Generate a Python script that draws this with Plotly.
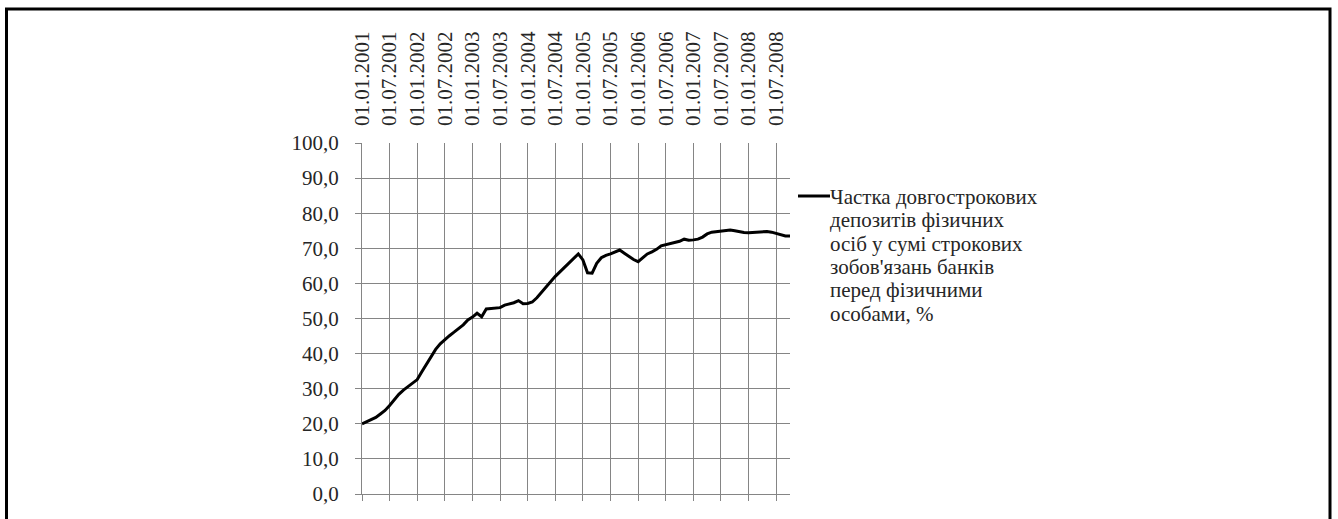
import plotly.graph_objects as go

# Monthly observation dates, 01.01.2001 .. 01.10.2008
months = [f"01.{m:02d}.{y}" for y in range(2001, 2009) for m in range(1, 13)][:94]

# Share of long-term household deposits in term liabilities to individuals, %
share = [
    20.0, 20.6, 21.0, 21.8, 22.8, 23.8, 25.2, 26.8, 28.4, 29.6, 30.6, 31.6,
    32.6, 34.8, 37.0, 39.2, 41.2, 42.8, 44.0, 45.1, 46.1, 47.2, 48.2, 49.6,
    50.4, 51.5, 50.5, 52.7, 52.8, 52.9, 53.1, 53.8, 54.1, 54.5, 55.1, 54.2,
    54.3, 54.7, 55.9, 57.5, 59.0, 60.4, 62.0, 63.3, 64.6, 66.0, 67.3, 68.4,
    66.7, 63.0, 62.9, 65.7, 67.3, 68.0, 68.4, 69.0, 69.5, 68.6, 67.6, 66.8,
    66.2, 67.3, 68.4, 69.0, 69.7, 70.7, 71.0, 71.3, 71.7, 72.0, 72.6, 72.3,
    72.4, 72.6, 73.2, 74.1, 74.6, 74.8, 74.9, 75.0, 75.2, 75.0, 74.7, 74.5,
    74.4, 74.5, 74.7, 74.9, 74.8, 74.6, 74.2, 73.8, 73.5, 73.5,
]

x_tick_labels = [
    "01.01.2001", "01.07.2001", "01.01.2002", "01.07.2002", "01.01.2003",
    "01.07.2003", "01.01.2004", "01.07.2004", "01.01.2005", "01.07.2005",
    "01.01.2006", "01.07.2006", "01.01.2007", "01.07.2007", "01.01.2008",
    "01.07.2008",
]
y_tick_values = [0, 10, 20, 30, 40, 50, 60, 70, 80, 90, 100]
y_tick_labels = ["0,0", "10,0", "20,0", "30,0", "40,0", "50,0",
                 "60,0", "70,0", "80,0", "90,0", "100,0"]

legend_lines = [
    "Частка довгострокових",
    "депозитів фізичних",
    "осіб у сумі строкових",
    "зобов'язань банків",
    "перед фізичними",
    "особами, %",
]

# Page geometry (pixels)
W, H = 1338, 519
L, R, T, B = 362, 790, 143, 494
FONT = "Liberation Serif"
GRID = "#858585"
TEXT = "#262626"
LEGEND_SIZE = 21
LEGEND_STEP = 23.3
LEGEND_TOP = 196


def px_x(px):
    return (px - L) / (R - L)


def px_y(py):
    return (B - py) / (B - T)


n = len(months)
tick_idx = [months.index(lbl) for lbl in x_tick_labels]

fig = go.Figure()
fig.add_trace(go.Scatter(
    x=list(range(n)), y=share, mode="lines",
    line=dict(color="black", width=3),
    showlegend=False, hoverinfo="skip",
))
# empty trace so the top label axis gets its own subplot
fig.add_trace(go.Scatter(x=[], y=[], xaxis="x2", yaxis="y",
                         showlegend=False, hoverinfo="skip"))

fig.update_layout(
    width=W, height=H, autosize=False,
    margin=dict(l=L, r=W - R, t=T, b=H - B, pad=0),
    paper_bgcolor="white", plot_bgcolor="white",
    font=dict(family=FONT, size=21, color=TEXT),
    xaxis=dict(
        type="linear", range=[0, n - 1],
        tickmode="array", tickvals=tick_idx, ticktext=[""] * len(tick_idx),
        showgrid=True, gridcolor=GRID, gridwidth=1,
        showline=True, linecolor=GRID, linewidth=1,
        ticks="outside", ticklen=6, tickcolor=GRID, tickwidth=1,
        zeroline=False, fixedrange=True,
    ),
    xaxis2=dict(
        type="linear", range=[0, n - 1], overlaying="x", side="top",
        anchor="y",
        tickmode="array", tickvals=tick_idx, ticktext=x_tick_labels,
        tickangle=-90, ticks="", showgrid=False, showline=False,
        zeroline=False, ticklabelstandoff=16,
        tickfont=dict(family=FONT, size=21, color=TEXT),
    ),
    yaxis=dict(
        range=[0, 100], tickmode="array",
        tickvals=y_tick_values, ticktext=y_tick_labels,
        showgrid=True, gridcolor=GRID, gridwidth=1,
        showline=True, linecolor=GRID, linewidth=1,
        ticks="outside", ticklen=6, tickcolor=GRID, tickwidth=1,
        zeroline=False, ticklabelstandoff=12,
        tickfont=dict(family=FONT, size=21, color=TEXT),
    ),
)

# Legend: sample line plus tightly spaced text lines
fig.add_shape(type="line", xref="paper", yref="paper",
              x0=px_x(798), x1=px_x(830),
              y0=px_y(LEGEND_TOP), y1=px_y(LEGEND_TOP),
              line=dict(color="black", width=3))
for k, txt in enumerate(legend_lines):
    fig.add_annotation(
        xref="paper", yref="paper", x=px_x(829),
        y=px_y(LEGEND_TOP + 1 + k * LEGEND_STEP),
        text=txt, showarrow=False, xanchor="left", yanchor="middle",
        borderpad=0,
        font=dict(family=FONT, size=LEGEND_SIZE, color=TEXT),
    )

# Chart frame
fig.add_shape(type="rect", xref="paper", yref="paper",
              x0=px_x(6.5), x1=px_x(1330), y0=px_y(9), y1=px_y(540),
              line=dict(color="black", width=3), fillcolor="rgba(0,0,0,0)",
              layer="below")

fig.write_html("out.html")
